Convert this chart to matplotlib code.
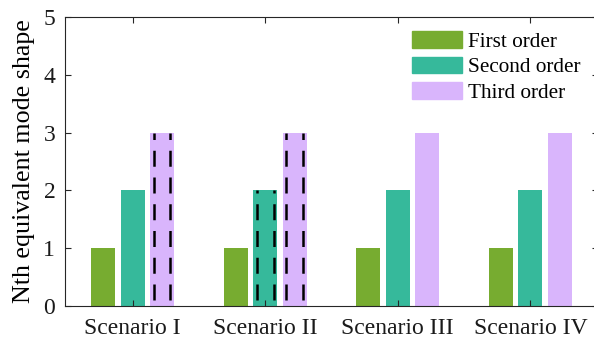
import numpy as np
import matplotlib.pyplot as plt
from matplotlib.patches import Patch

# data
scenarios = ['Scenario I', 'Scenario II', 'Scenario III', 'Scenario IV']
orders = ['First order', 'Second order', 'Third order']
first = [1, 1, 1, 1]
second = [2, 2, 2, 2]
third = [3, 3, 3, 3]
# which bars carry the dashed marks: (scenario index, order index)
dashed = [(0, 2), (1, 1), (1, 2)]

colors = ['#77AC30', '#36B99B', '#D9B5FC']

plt.rcParams['font.family'] = ['Liberation Serif', 'DejaVu Serif']
plt.rcParams['font.size'] = 17

fig = plt.figure(figsize=(5.94, 3.42), dpi=100)
W, H = 594, 342
ax = fig.add_axes([65 / W, 1 - 306 / H, (598 - 65) / W, (306 - 17) / H])

x = np.arange(1, len(scenarios) + 1)
w = 0.18
off = 0.222
series = [first, second, third]
for i, vals in enumerate(series):
    ax.bar(x + (i - 1) * off, vals, width=w, color=colors[i], label=orders[i])

# dashed vertical marks inside selected bars
for s, o in dashed:
    xc = x[s] + (o - 1) * off
    h = series[o][s]
    for dx in (-0.063, 0.063):
        ax.plot([xc + dx, xc + dx], [0, h], color='black', lw=1.8,
                linestyle=(8.3, (6.4, 4.3)))

ax.set_xlim(0.49, 4.51)
ax.set_ylim(0, 5)
ax.set_xticks(x)
ax.set_xticklabels(scenarios)
ax.set_yticks(range(6))
ax.set_ylabel('Nth equivalent mode shape', fontsize=18.7, labelpad=6)
ax.tick_params(direction='in', top=True, right=True, length=4, colors='#262626',
               labelcolor='#1a1a1a')
ax.tick_params(axis='y', pad=7)
ax.tick_params(axis='x', pad=9)
for sp in ax.spines.values():
    sp.set_color('#262626')
    sp.set_linewidth(0.8)

handles = [Patch(color=c) for c in colors]
ax.legend(handles, orders, loc='upper left', bbox_to_anchor=(412 / W, 1 - 31 / H),
          bbox_transform=fig.transFigure, fontsize=15.3,
          frameon=False, handlelength=2.35, handleheight=0.85, handletextpad=0.28,
          labelspacing=0.22, borderaxespad=0, borderpad=0)

fig.savefig('out.png', dpi=100)
